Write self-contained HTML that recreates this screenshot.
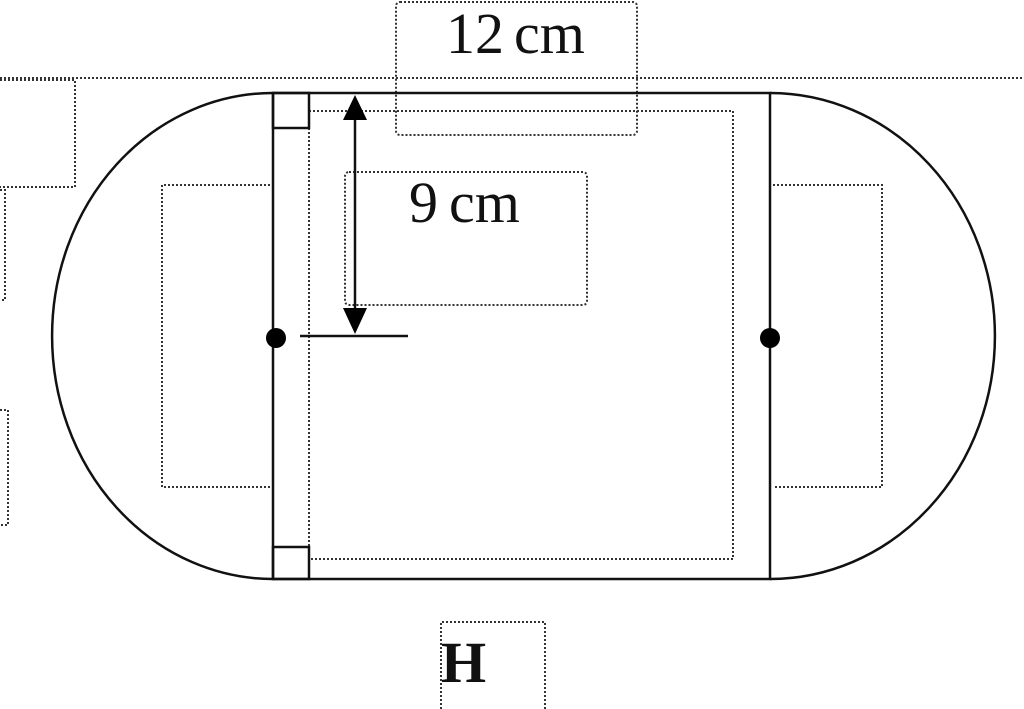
<!DOCTYPE html>
<html><head><style>
html,body{margin:0;padding:0;background:#fff;}
svg{display:block;}
</style></head><body>
<svg width="1024" height="709" viewBox="0 0 1024 709" xmlns="http://www.w3.org/2000/svg">
<g fill="none" stroke="#333" stroke-width="2" stroke-dasharray="2,2">
  <line x1="0" y1="78" x2="1024" y2="78"/>
  <rect x="396" y="2" width="241" height="133" rx="4"/>
  <path d="M309 128 V547 M309 111 H733 V559 H309"/>
  <path d="M270 185 H162 V487 H270"/>
  <path d="M773 185 H882 V487 H773"/>
  <rect x="345" y="172" width="242" height="133" rx="4"/>
  <path d="M0 80 H75 V187 H0"/>
  <path d="M0 190 H5 V300 H0"/>
  <path d="M0 410 H8 V525 H0"/>
  <path d="M441 709 V622 H545 V709"/>
</g>
<g fill="none" stroke="#111" stroke-width="2.5">
  <rect x="273" y="93" width="497" height="486"/>
  <path d="M273 93 A221 243 0 0 0 273 579"/>
  <path d="M770 93 A225 243 0 0 1 770 579"/>
  <rect x="273" y="93" width="36" height="35"/>
  <rect x="273" y="547" width="36" height="32"/>
  <line x1="355" y1="110" x2="355" y2="320"/>
  <line x1="300" y1="336" x2="408" y2="336"/>
</g>
<g fill="#000">
  <circle cx="276" cy="338" r="10"/>
  <circle cx="770" cy="338" r="10"/>
  <polygon points="355,95 343,120 367,120"/>
  <polygon points="355,334 343,308 367,308"/>
</g>
<g font-family="'Liberation Serif',serif" fill="#111" font-size="58">
  <text x="446" y="53">12</text>
  <text x="514" y="53">cm</text>
  <text x="409" y="222">9</text>
  <text x="449" y="222">cm</text>
  <text x="441" y="682" font-weight="bold">H</text>
</g>
</svg>
</body></html>
